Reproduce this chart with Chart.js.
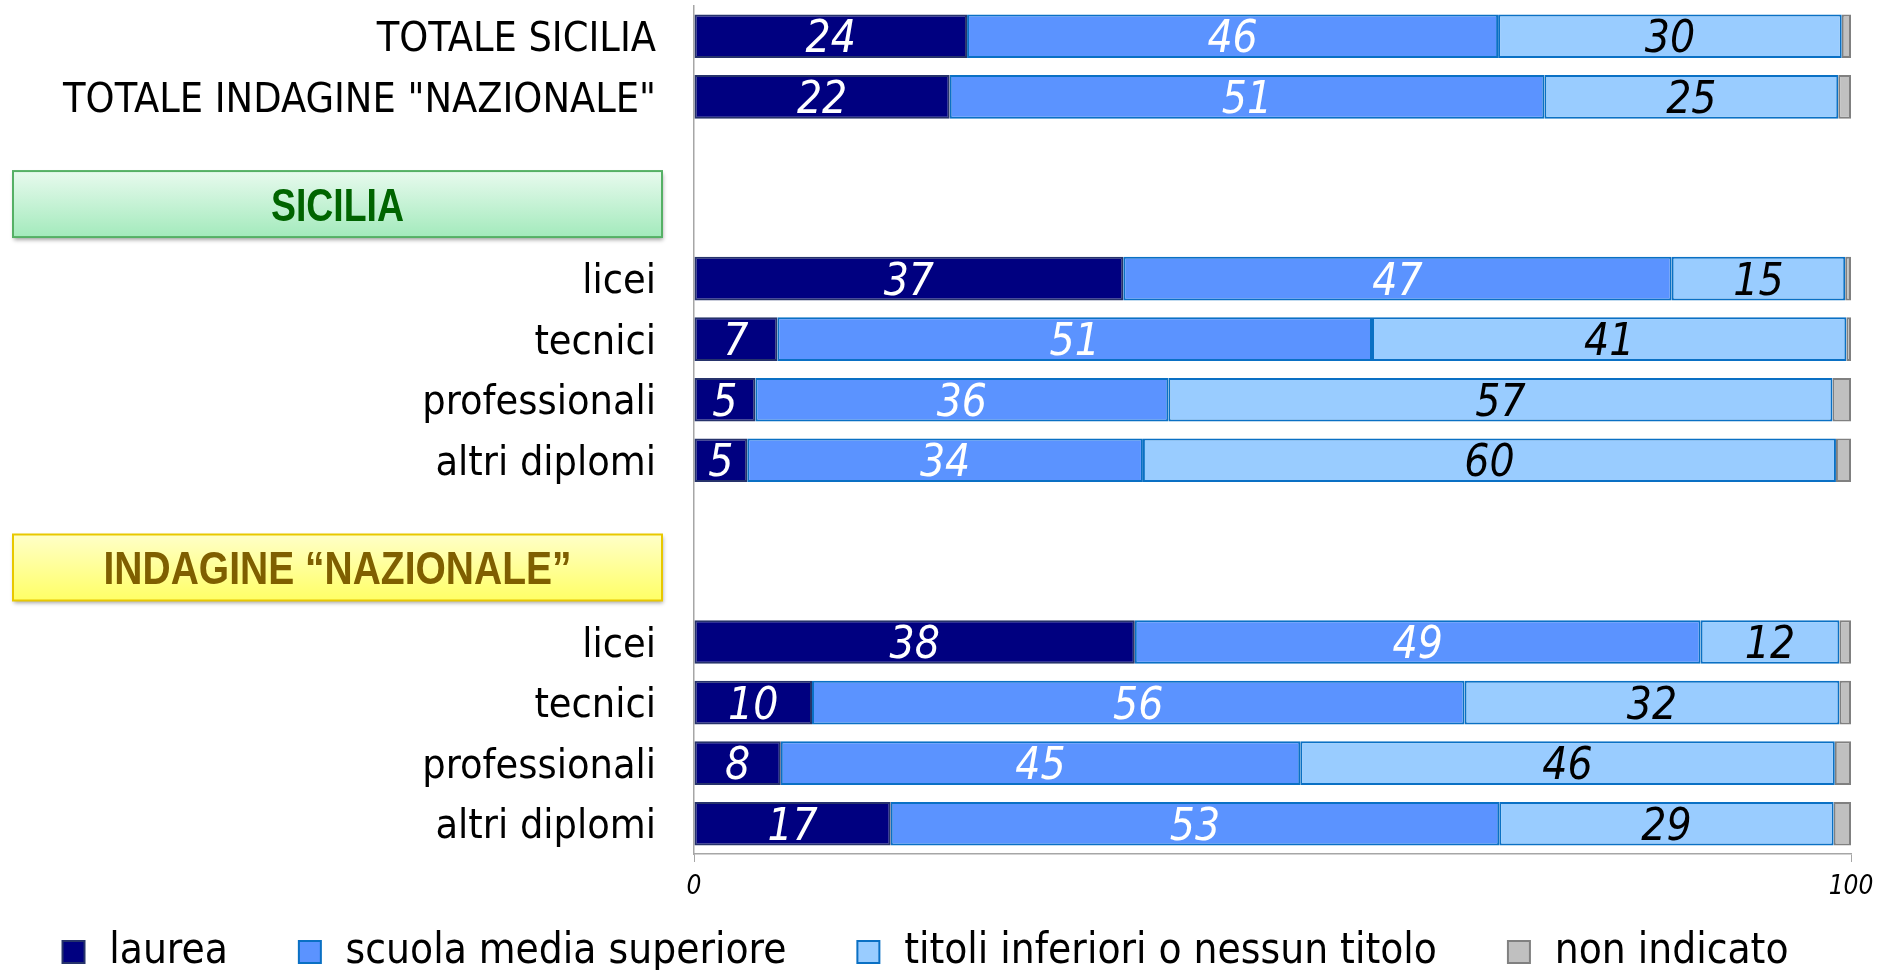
<!DOCTYPE html>
<html>
<head>
<meta charset="utf-8">
<script src="https://cdn.jsdelivr.net/npm/chart.js@4.4.1/dist/chart.umd.min.js"></script>
<style>
  html, body { margin: 0; padding: 0; background: #fff; }
  #wrap { width: 1878px; height: 970px; position: relative; }
</style>
</head>
<body>
<div id="wrap"><canvas id="chart1"></canvas></div>
<script>
// ROWS OF THE CHART (empty strings are spacing rows, the group titles sit on them)
let categories = ['TOTALE SICILIA', 'TOTALE INDAGINE "NAZIONALE"', '', '',
	'licei', 'tecnici', 'professionali', 'altri diplomi', '', '',
	'licei', 'tecnici', 'professionali', 'altri diplomi'];

let laurea      = [23.6, 22.1, null, null, 37.1,  7.2,  5.3,  4.6, null, null, 38.1, 10.2,  7.5, 17.0];
let scuolaMedia = [45.9, 51.4, null, null, 47.4, 51.4, 35.7, 34.2, null, null, 48.9, 56.4, 44.9, 52.6];
let titoliInf   = [29.7, 25.4, null, null, 15.0, 41.0, 57.4, 59.9, null, null, 12.0, 32.4, 46.2, 28.9];
let nonIndicato = [ 0.8,  1.1, null, null,  0.5,  0.4,  1.6,  1.3, null, null,  1.0,  1.0,  1.4,  1.5];

let seriesNames = ['laurea', 'scuola media superiore', 'titoli inferiori o nessun titolo', 'non indicato'];
let xTicks = [0, 100];

let groupTitles = ['SICILIA', 'INDAGINE “NAZIONALE”'];
let groupRows = [2, 8];

let fontFam = "'DejaVu Sans Condensed', 'DejaVu Sans', sans-serif";


// GROUP TITLE BOXES
let groupBoxes = {
	id: 'groupBoxes',
	afterDraw: function(chart){
		let ctx = chart.ctx;
		let yScale = chart.scales.y;
		let styles = [
			{top: '#e8faee', bottom: '#a3eabc', border: '#55b065', text: '#006400', width: 133},
			{top: '#ffffc8', bottom: '#ffff66', border: '#e8c800', text: '#7f5f00', width: 468}
		];
		for (let i = 0; i < groupTitles.length; i++){
			let r = groupRows[i];
			let rowH = yScale.getPixelForValue(r + 1) - yScale.getPixelForValue(r);
			let cy = yScale.getPixelForValue(r) + 0.77 * rowH;
			let x0 = 13, x1 = 662, h = 66;
			let y0 = cy - h / 2;
			let st = styles[i];

			ctx.save();
			let grad = ctx.createLinearGradient(0, y0, 0, y0 + h);
			grad.addColorStop(0, st.top);
			grad.addColorStop(1, st.bottom);
			ctx.shadowColor = 'rgba(0,0,0,0.35)';
			ctx.shadowBlur = 4;
			ctx.shadowOffsetX = 1;
			ctx.shadowOffsetY = 3;
			ctx.fillStyle = grad;
			ctx.fillRect(x0, y0, x1 - x0, h);
			ctx.shadowColor = 'transparent';
			ctx.strokeStyle = st.border;
			ctx.lineWidth = 2;
			ctx.strokeRect(x0, y0, x1 - x0, h);

			ctx.font = "bold 46px 'Liberation Sans Narrow', 'Liberation Sans', sans-serif";
			let w = ctx.measureText(groupTitles[i]).width;
			ctx.translate((x0 + x1) / 2, cy + 0.36 * 46);
			ctx.scale(st.width / w, 1);
			ctx.fillStyle = st.text;
			ctx.textAlign = 'center';
			ctx.textBaseline = 'alphabetic';
			ctx.fillText(groupTitles[i], 0, 0);
			ctx.restore();
		}
	}
};

// NUMBERS INSIDE THE SEGMENTS
let segmentLabels = {
	id: 'segmentLabels',
	afterDatasetsDraw: function(chart){
		let ctx = chart.ctx;
		let colors = ['#ffffff', '#ffffff', '#000000'];
		ctx.save();
		ctx.font = "italic 44px " + fontFam;
		ctx.textAlign = 'center';
		ctx.textBaseline = 'alphabetic';
		for (let i = 0; i < 3; i++){
			let ds = chart.data.datasets[i];
			let meta = chart.getDatasetMeta(i);
			ctx.fillStyle = colors[i];
			meta.data.forEach(function(bar, j){
				let v = ds.data[j];
				if (v === null) return;
				ctx.fillText(String(Math.round(v)), (bar.x + bar.base) / 2, bar.y + 16);
			});
		}
		ctx.restore();
	}
};


let ctx1 = document.getElementById('chart1');

let myChart1 = new Chart(ctx1, {
	type: 'bar',
	data: {
		labels: categories,
		datasets: [
			{label: seriesNames[0], data: laurea, backgroundColor: '#000080', borderColor: '#26336b'},
			{label: seriesNames[1], data: scuolaMedia, backgroundColor: '#5b93ff', borderColor: '#0a70c4'},
			{label: seriesNames[2], data: titoliInf, backgroundColor: '#99ccff', borderColor: '#0a70c4'},
			{label: seriesNames[3], data: nonIndicato, backgroundColor: '#c0c0c0', borderColor: '#808080'}
		]
	},
	options: {
		indexAxis: 'y',
		responsive: true,
		maintainAspectRatio: false,
		animation: false,
		datasets: {
			bar: {
				borderWidth: 2,
				borderSkipped: false,
				barPercentage: 0.72,
				categoryPercentage: 1
			}
		},
		layout: {padding: {left: 0, right: 27, top: 6, bottom: 0}},
		scales: {
			x: {
				stacked: true,
				min: 0,
				max: 100,
				afterBuildTicks: function(scale){
					scale.ticks = xTicks.map(function(v){ return {value: v}; });
				},
				afterFit: function(scale){
					scale.height = 66;
					scale.paddingLeft = 0;
					scale.paddingRight = 0;
				},
				grid: {drawOnChartArea: false, drawTicks: true, tickLength: 8, color: '#a6a6a6'},
				border: {display: true, color: '#a6a6a6', width: 1.5},
				ticks: {
					font: {family: fontFam, size: 26, style: 'italic'},
					color: '#000',
					padding: 10,
					maxRotation: 0
				}
			},
			y: {
				stacked: true,
				afterFit: function(scale){
					scale.width = 694;
					scale.paddingTop = 0;
					scale.paddingBottom = 0;
				},
				grid: {display: false, drawTicks: false},
				border: {display: true, color: '#a6a6a6', width: 1.5},
				ticks: {
					font: {family: fontFam, size: 41},
					color: '#000',
					padding: 38,
					labelOffset: 4,
					autoSkip: false
				}
			}
		},
		plugins: {
			legend: {
				position: 'bottom',
				maxHeight: 50,
				labels: {
					font: {family: fontFam, size: 42},
					color: '#000',
					boxWidth: 22,
					boxHeight: 22,
					padding: 11,
					generateLabels: function(chart){
						let items = Chart.defaults.plugins.legend.labels.generateLabels(chart);
						for (let i = 0; i < items.length; i++){
							items[i].text = '\u200A' + items[i].text;
							if (i < items.length - 1) items[i].text += '     ';
						}
						return items;
					}
				}
			},
			tooltip: {enabled: false}
		}
	},
	plugins: [groupBoxes, segmentLabels]
});
</script>
</body>
</html>
